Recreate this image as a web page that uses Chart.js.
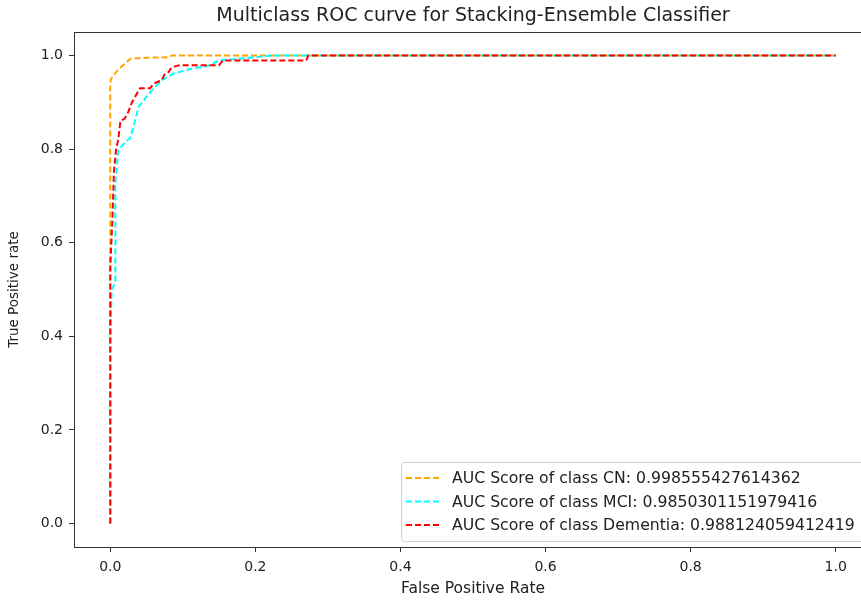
<!DOCTYPE html>
<html>
<head>
<meta charset="utf-8">
<script src="https://cdn.jsdelivr.net/npm/chart.js@4/dist/chart.umd.min.js"></script>
<style>
html, body { margin: 0; padding: 0; background: #fff; overflow: hidden; }
</style>
</head>
<body>
<canvas id="myChart" width="880" height="601"></canvas>
<script>
// ROC curves
var cnFpr  = [0, 0,    0.001, 0.0045, 0.0115, 0.018, 0.025, 0.028, 0.05,  0.08,  0.085, 1];
var cnTpr  = [0, 0.94, 0.95,  0.957,  0.971,  0.979, 0.989, 0.993, 0.995, 0.996, 1.0,   1];

var mciFpr = [0, 0,   0.002, 0.007, 0.007, 0.009, 0.011, 0.018, 0.028, 0.034, 0.039, 0.046, 0.057, 0.071, 0.087, 0.11,  0.138, 0.149, 0.179, 0.225, 1];
var mciTpr = [0, 0.4, 0.5,   0.515, 0.73,  0.76,  0.797, 0.81,  0.825, 0.86,  0.89,  0.904, 0.925, 0.947, 0.961, 0.971, 0.979, 0.989, 0.993, 1.0,   1];

var demFpr = [0, 0,    0.003, 0.005, 0.008, 0.011, 0.014, 0.02,  0.025, 0.03, 0.041, 0.055, 0.06, 0.071, 0.075, 0.08,  0.085, 0.095, 0.15,  0.155, 0.27,  0.273, 1];
var demTpr = [0, 0.55, 0.65,  0.75,  0.8,   0.82,  0.86,  0.865, 0.88,  0.9,  0.93,  0.93,  0.94, 0.947, 0.96,  0.964, 0.975, 0.979, 0.979, 0.989, 0.989, 1.0,   1];

var seriesLabels = [
    'AUC Score of class CN: 0.998555427614362',
    'AUC Score of class MCI: 0.9850301151979416',
    'AUC Score of class Dementia: 0.988124059412419'
];
var tickValues = [0, 0.2, 0.4, 0.6, 0.8, 1.0];

function pontos(xs, ys) {
    var p = [];
    for (var i = 0; i < xs.length; i++) {
        p.push({ x: xs[i], y: ys[i] });
    }
    return p;
}

var fonte = 'DejaVu Sans';

// frame, title and legend drawn like matplotlib
var moldura = {
    id: 'moldura',
    afterDraw: function (chart) {
        var c = chart.ctx;
        var a = chart.chartArea;
        c.save();
        c.strokeStyle = '#333';
        c.lineWidth = 1;
        c.strokeRect(a.left + 0.5, a.top + 0.5, a.right - a.left, a.bottom - a.top);

        c.fillStyle = '#222';
        c.font = '19px "' + fonte + '"';
        c.textAlign = 'center';
        c.textBaseline = 'middle';
        c.fillText('Multiclass ROC curve for Stacking-Ensemble Classifier', (a.left + a.right) / 2, 16);

        // legend
        var bx = 401, by = 462, bw = 470, bh = 79;
        c.fillStyle = 'rgba(255,255,255,0.8)';
        c.strokeStyle = '#d0d0d0';
        c.beginPath();
        c.roundRect(bx + 0.5, by + 0.5, bw, bh, 3);
        c.fill();
        c.stroke();
        c.font = '15.7px "' + fonte + '"';
        c.textAlign = 'left';
        chart.data.datasets.forEach(function (ds, i) {
            var y = 478 + i * 23.5;
            c.strokeStyle = ds.borderColor;
            c.lineWidth = 2;
            c.setLineDash([6, 3]);
            c.beginPath();
            c.moveTo(406, y);
            c.lineTo(440, y);
            c.stroke();
            c.setLineDash([]);
            c.fillStyle = '#222';
            c.fillText(ds.label, 452, y + 1);
        });
        c.restore();
    }
};

var ctx = document.getElementById('myChart');
var myChart = new Chart(ctx, {
    type: 'line',
    data: {
        datasets: [{
            label: seriesLabels[0],
            data: pontos(cnFpr, cnTpr),
            borderColor: '#FFA500',
            order: 2
        }, {
            label: seriesLabels[1],
            data: pontos(mciFpr, mciTpr),
            borderColor: '#00FFFF',
            order: 1
        }, {
            label: seriesLabels[2],
            data: pontos(demFpr, demTpr),
            borderColor: '#FF0000',
            order: 0
        }].map(function (d) {
            d.borderWidth = 2;
            d.borderDash = [6, 3];
            d.pointRadius = 0;
            d.tension = 0;
            d.fill = false;
            return d;
        })
    },
    options: {
        responsive: false,
        animation: false,
        layout: { padding: { left: 0, top: 32, right: 8, bottom: 0 } },
        plugins: {
            legend: { display: false },
            title: { display: false },
            tooltip: { enabled: false }
        },
        scales: {
            x: {
                type: 'linear',
                min: -0.05,
                max: 1.05,
                afterBuildTicks: function (s) { s.ticks = tickValues.map(function (v) { return { value: v }; }); },
                afterFit: function (s) { s.height = 54; },
                grid: { drawOnChartArea: false, drawTicks: true, tickLength: 5, color: '#333' },
                border: { display: true, color: '#333' },
                ticks: {
                    color: '#222', padding: 7, maxRotation: 0,
                    font: { family: fonte, size: 14 },
                    callback: function (v) { return Number(v).toFixed(1); }
                },
                title: {
                    display: true, text: 'False Positive Rate', color: '#222',
                    font: { family: fonte, size: 15.5 }, padding: { top: 0, bottom: 3 }
                }
            },
            y: {
                type: 'linear',
                min: -0.05,
                max: 1.05,
                afterBuildTicks: function (s) { s.ticks = tickValues.map(function (v) { return { value: v }; }); },
                afterFit: function (s) { s.width = 74; },
                grid: { drawOnChartArea: false, drawTicks: true, tickLength: 5, color: '#333' },
                border: { display: true, color: '#333' },
                ticks: {
                    color: '#222', padding: 6,
                    font: { family: fonte, size: 14 },
                    callback: function (v) { return Number(v).toFixed(1); }
                },
                title: {
                    display: true, text: 'True Positive rate', color: '#222',
                    font: { family: fonte, size: 13.5 }, padding: { top: 6, bottom: 0 }
                }
            }
        }
    },
    plugins: [moldura]
});
</script>
</body>
</html>
